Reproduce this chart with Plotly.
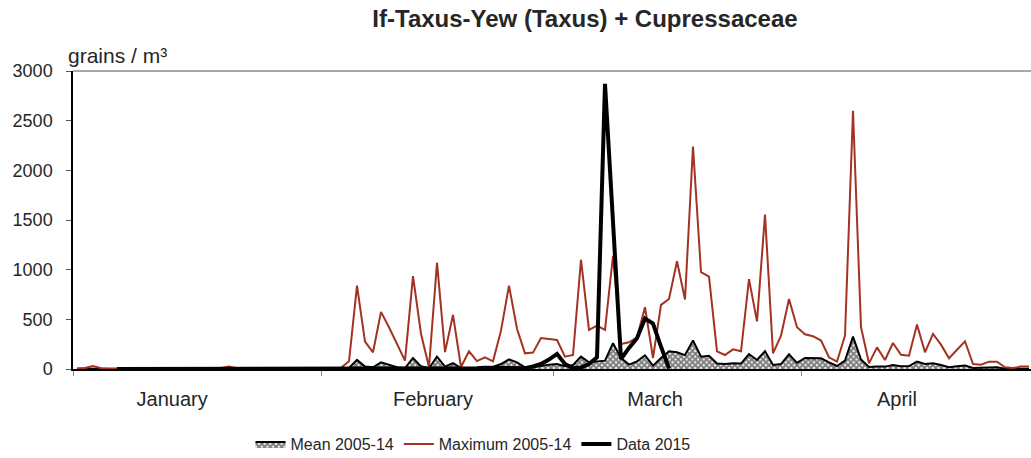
import plotly.graph_objects as go

# ---- data (day index 0 = 1 January) ----
months = ["January", "February", "March", "April"]
month_start_days = [0, 31, 60, 91]
month_label_days = [12.4, 45, 72.75, 103]

max_2005_14 = [
    5, 10, 30, 8, 3, 2, 2, 2, 2, 2,
    2, 2, 2, 2, 2, 2, 2, 2, 10, 25,
    8, 2, 2, 2, 2, 2, 2, 2, 5, 10,
    8, 5, 8, 12, 77, 840, 276, 168, 575, 420,
    250, 85, 935, 355, 20, 1070, 170, 545, 20, 178,
    80, 118, 77, 386, 840, 405, 158, 165, 312, 302,
    292, 124, 141, 1100, 393, 437, 393, 1140, 252, 269,
    319, 622, 111, 645, 705, 1085, 700, 2240, 975, 930,
    178, 141, 198, 178, 905, 480, 1555, 158, 336, 705,
    420, 350, 330, 286, 118, 74, 336, 2600, 420, 57,
    218, 91, 262, 144, 134, 447, 168, 353, 245, 108,
    192, 279, 50, 44, 74, 74, 17, 10, 24, 24,
]

mean_2005_14 = [
    2, 3, 8, 3, 2, 2, 2, 2, 2, 2,
    2, 2, 2, 2, 2, 2, 2, 2, 2, 3,
    2, 2, 2, 2, 2, 2, 2, 2, 2, 2,
    2, 2, 2, 3, 10, 91, 24, 17, 67, 44,
    17, 10, 111, 27, 7, 124, 24, 60, 10, 10,
    10, 18, 20, 50, 97, 67, 17, 17, 34, 44,
    50, 27, 40, 124, 67, 77, 84, 259, 111, 44,
    77, 138, 34, 111, 178, 168, 140, 288, 124, 134,
    55, 50, 57, 55, 151, 91, 180, 40, 50, 148,
    62, 111, 111, 108, 67, 30, 84, 326, 95, 20,
    24, 24, 40, 27, 30, 74, 50, 57, 40, 17,
    27, 34, 10, 10, 17, 17, 3, 3, 3, 3,
]

data_2015_first_day = 5
data_2015 = [
    0, 0, 0, 0, 0, 0, 0, 0, 0, 0,
    0, 0, 0, 0, 0, 0, 0, 0, 0, 0,
    0, 0, 0, 0, 0, 0, 0, 0, 0, 0,
    0, 0, 0, 0, 0, 0, 0, 0, 0, 0,
    0, 0, 0, 0, 0, 8, 12, 10, 5, 3,
    2, 8, 25, 50, 95, 152, 50, 7, 15, 50,
    118, 2870, 1480, 100, 212, 310, 508, 458, 225, 5,
]

# ---- figure ----
x_all = [d + 0.5 for d in range(len(max_2005_14))]
x_2015 = [data_2015_first_day + i + 0.5 for i in range(len(data_2015))]

TXT = "#262626"
FONT = "Liberation Sans, Arial, sans-serif"

fig = go.Figure()
fig.add_trace(go.Scatter(
    x=x_all, y=mean_2005_14, name="Mean 2005-14", mode="lines",
    line=dict(color="black", width=2),
    fill="tozeroy", fillcolor="white",
    fillpattern=dict(shape="x", size=4, solidity=0.75, fgcolor="black", bgcolor="white"),
))
fig.add_trace(go.Scatter(
    x=x_all, y=max_2005_14, name="Maximum 2005-14", mode="lines",
    line=dict(color="#a33222", width=2),
))
fig.add_trace(go.Scatter(
    x=x_2015, y=data_2015, name="Data 2015", mode="lines",
    line=dict(color="black", width=4),
))

fig.update_layout(
    width=1031, height=458,
    margin=dict(l=73, r=0, t=71, b=89),
    paper_bgcolor="white", plot_bgcolor="white",
    font=dict(family=FONT, color=TXT, size=17),
    title=dict(text="<b>If-Taxus-Yew (Taxus) + Cupressaceae</b>",
               x=585 / 1031, xref="container", xanchor="center",
               y=1 - 19 / 458, yref="container", yanchor="middle",
               font=dict(size=24, color=TXT, family=FONT)),
    showlegend=True,
    legend=dict(orientation="h", x=473 / 1031, xref="container", xanchor="center",
                y=1 - 444 / 458, yref="container", yanchor="middle",
                font=dict(size=16, color=TXT), itemwidth=30,
                traceorder="normal", bgcolor="rgba(0,0,0,0)"),
)

fig.update_xaxes(
    range=[0, 119.75], showgrid=False, zeroline=False,
    showline=True, linecolor="black", linewidth=1.5,
    tickmode="array", tickvals=month_label_days, ticktext=months,
    ticks="", tickfont=dict(size=20, color=TXT), ticklabelstandoff=11,
    minor=dict(tickmode="array", tickvals=month_start_days, ticks="outside",
               ticklen=5, tickcolor="#888888", tickwidth=1),
    fixedrange=True,
)
fig.update_yaxes(
    range=[0, 3000], showgrid=False, zeroline=False,
    showline=True, linecolor="black", linewidth=1.5,
    tickmode="array", tickvals=[0, 500, 1000, 1500, 2000, 2500, 3000],
    ticks="outside", ticklen=5, tickcolor="#555555",
    tickfont=dict(size=18, color=TXT), ticklabelstandoff=10,
    fixedrange=True,
)

# top border of plot area
fig.add_shape(type="line", xref="paper", yref="paper", x0=0, x1=1, y0=1, y1=1,
              line=dict(color="#8a8a8a", width=1.5))

fig.add_annotation(text="grains / m³", xref="paper", yref="paper", x=0, y=1,
                   xanchor="left", yanchor="bottom", xshift=-7, yshift=2,
                   showarrow=False, font=dict(size=21, color=TXT))

fig.write_html("out.html", config={"displayModeBar": False},
               post_script="document.body.style.margin='0';document.body.style.overflow='hidden';")
